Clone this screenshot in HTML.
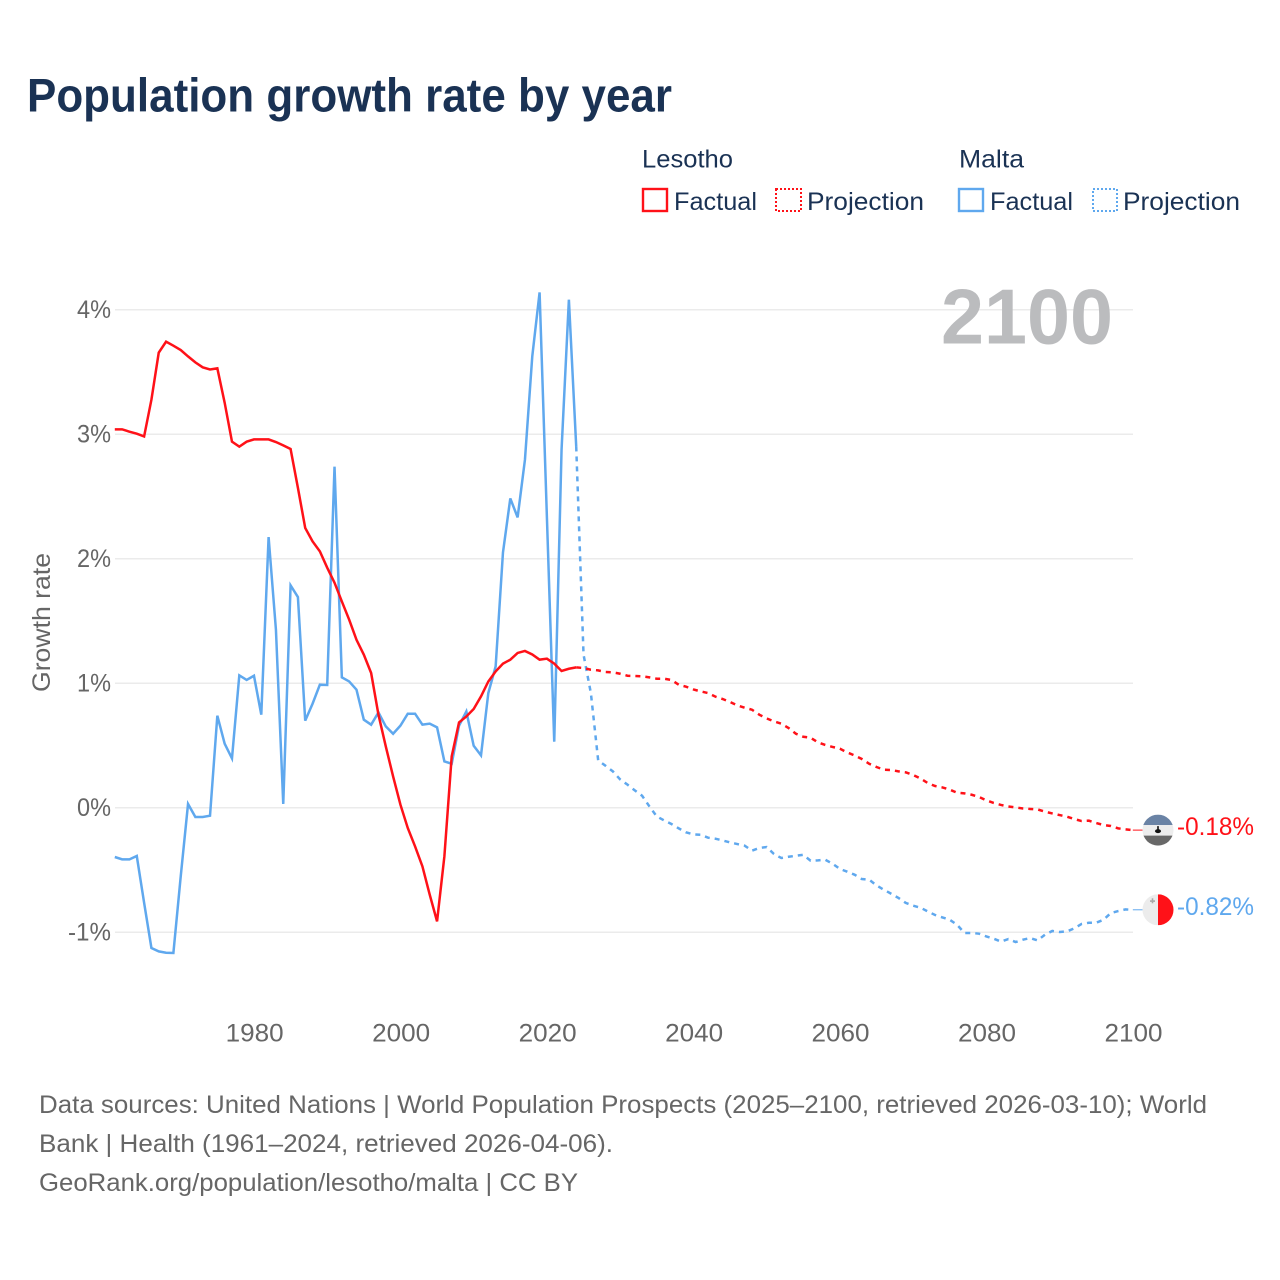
<!DOCTYPE html>
<html lang="en">
<head>
<meta charset="utf-8">
<title>Population growth rate by year</title>
<style>
html,body{margin:0;padding:0;background:#fff;}
svg{display:block;font-family:"Liberation Sans",sans-serif;}
.tick{font-size:25px;fill:#666666;}
.legend{font-size:25px;fill:#1a3254;}
.foot{font-size:25px;fill:#666666;}
</style>
</head>
<body>
<svg id="chart" xmlns="http://www.w3.org/2000/svg" width="1280" height="1280" viewBox="0 0 1280 1280">
  <rect x="0" y="0" width="1280" height="1280" fill="#ffffff"/>
  <text x="27" y="111.5" font-size="47" font-weight="700" fill="#1a3254" textLength="645" lengthAdjust="spacingAndGlyphs">Population growth rate by year</text>

  <g>
    <text class="legend" x="642" y="167.5" textLength="91" lengthAdjust="spacingAndGlyphs">Lesotho</text>
    <text class="legend" x="959" y="167.5" textLength="65" lengthAdjust="spacingAndGlyphs">Malta</text>
    <g>
      <rect x="643" y="189" width="24" height="22" fill="none" stroke="#ff1118" stroke-width="2.4"/>
      <text class="legend" x="674" y="210" textLength="83" lengthAdjust="spacingAndGlyphs">Factual</text>
    </g>
    <g>
      <rect x="776" y="189" width="25" height="22" fill="none" stroke="#ff1118" stroke-width="2" stroke-dasharray="2 2"/>
      <text class="legend" x="807" y="210" textLength="117" lengthAdjust="spacingAndGlyphs">Projection</text>
    </g>
    <g>
      <rect x="959" y="189" width="24" height="22" fill="none" stroke="#5fa8ee" stroke-width="2.4"/>
      <text class="legend" x="990" y="210" textLength="83" lengthAdjust="spacingAndGlyphs">Factual</text>
    </g>
    <g>
      <rect x="1093" y="189" width="24" height="22" fill="none" stroke="#5fa8ee" stroke-width="2" stroke-dasharray="2 2"/>
      <text class="legend" x="1123" y="210" textLength="117" lengthAdjust="spacingAndGlyphs">Projection</text>
    </g>
  </g>

  <g id="grid"></g>
  <g id="yticks"></g>
  <g id="xticks"></g>

  <text x="941" y="343.5" font-size="78" font-weight="700" fill="#bbbcbe" textLength="172" lengthAdjust="spacingAndGlyphs">2100</text>
  <text class="tick" transform="translate(50,692) rotate(-90)" x="0" y="0" textLength="139" lengthAdjust="spacingAndGlyphs">Growth rate</text>

  <g id="series"></g>
  <g id="ends"></g>

  <g>
    <text class="foot" x="39" y="1113" textLength="1168" lengthAdjust="spacingAndGlyphs">Data sources: United Nations | World Population Prospects (2025–2100, retrieved 2026-03-10); World</text>
    <text class="foot" x="39" y="1152" textLength="574" lengthAdjust="spacingAndGlyphs">Bank | Health (1961–2024, retrieved 2026-04-06).</text>
    <text class="foot" x="39" y="1191" textLength="539" lengthAdjust="spacingAndGlyphs">GeoRank.org/population/lesotho/malta | CC BY</text>
  </g>
</svg>
<script>
const xTickYears = [1980, 2000, 2020, 2040, 2060, 2080, 2100];
const yTickValues = [4, 3, 2, 1, 0, -1];
const factualStartYear = 1961;
const projectionStartYear = 2025;
const lesothoFactual = [3.039,3.039,3.020,3.004,2.982,3.277,3.655,3.743,3.711,3.676,
  3.625,3.577,3.537,3.520,3.529,3.253,2.940,2.900,2.940,2.958,
  2.958,2.958,2.937,2.910,2.881,2.570,2.247,2.139,2.059,1.928,
  1.807,1.657,1.510,1.349,1.229,1.082,0.747,0.492,0.251,0.024,
  -0.163,-0.311,-0.471,-0.699,-0.913,-0.391,0.412,0.685,0.733,0.793,
  0.894,1.014,1.095,1.157,1.189,1.243,1.259,1.231,1.189,1.197,
  1.157,1.098,1.116,1.127];
const lesothoProjection = [1.122,1.108,1.103,1.090,1.087,1.076,1.060,1.058,1.055,1.047,
  1.036,1.036,1.026,0.988,0.972,0.950,0.934,0.921,0.892,0.873,
  0.849,0.822,0.803,0.787,0.747,0.717,0.693,0.675,0.640,0.594,
  0.570,0.562,0.525,0.504,0.488,0.474,0.444,0.420,0.391,0.353,
  0.327,0.305,0.303,0.292,0.284,0.263,0.235,0.198,0.174,0.163,
  0.145,0.120,0.115,0.104,0.086,0.059,0.038,0.022,0.010,0.002,
  -0.006,-0.010,-0.014,-0.032,-0.046,-0.059,-0.072,-0.091,-0.107,-0.104,
  -0.123,-0.139,-0.147,-0.166,-0.174,-0.18];
const maltaFactual = [-0.396,-0.415,-0.415,-0.388,-0.763,-1.127,-1.154,-1.165,-1.167,-0.552,
  0.030,-0.075,-0.075,-0.064,0.739,0.514,0.396,1.063,1.026,1.060,
  0.747,2.174,1.430,0.030,1.786,1.692,0.699,0.835,0.988,0.986,
  2.739,1.047,1.014,0.948,0.707,0.667,0.765,0.653,0.594,0.659,
  0.755,0.755,0.667,0.675,0.645,0.372,0.353,0.659,0.773,0.498,
  0.420,0.921,1.135,2.050,2.484,2.332,2.795,3.625,4.139,2.329,
  0.530,2.876,4.080,2.902];
const maltaProjection = [1.229,0.921,0.380,0.337,0.292,0.227,0.185,0.139,0.096,0.010,
  -0.070,-0.102,-0.131,-0.166,-0.198,-0.214,-0.217,-0.241,-0.249,-0.263,
  -0.279,-0.292,-0.305,-0.345,-0.324,-0.316,-0.372,-0.404,-0.394,-0.386,
  -0.378,-0.426,-0.423,-0.418,-0.450,-0.492,-0.514,-0.538,-0.573,-0.578,
  -0.624,-0.659,-0.691,-0.725,-0.765,-0.787,-0.803,-0.833,-0.862,-0.881,
  -0.900,-0.940,-1.006,-1.006,-1.012,-1.034,-1.052,-1.076,-1.055,-1.079,
  -1.060,-1.047,-1.066,-1.020,-0.990,-0.998,-0.994,-0.969,-0.934,-0.924,
  -0.924,-0.900,-0.846,-0.830,-0.817,-0.82];

const RED = '#ff1118';
const BLUE = '#5fa8ee';
const SVG_NS = 'http://www.w3.org/2000/svg';
const xScale = function (year) { return 114.8 + (year - 1961) * 7.324; };
const yScale = function (value) { return 807.7 - value * 124.5; };

function make(tag, parent, attrs, text) {
  const el = document.createElementNS(SVG_NS, tag);
  Object.keys(attrs).forEach(function (k) { el.setAttribute(k, attrs[k]); });
  if (text !== undefined) el.textContent = text;
  parent.appendChild(el);
  return el;
}
function pointsFrom(startYear, values) {
  return values.map(function (v, i) {
    return xScale(startYear + i).toFixed(2) + ',' + yScale(v).toFixed(2);
  }).join(' ');
}

const grid = document.getElementById('grid');
const yticks = document.getElementById('yticks');
yTickValues.forEach(function (v) {
  const line = make('line', grid, {x1: 115, x2: 1133, y1: yScale(v), y2: yScale(v), stroke: '#ebebeb', 'stroke-width': 1.5});
  
  
  const label = make('text', yticks, {x: 111, y: yScale(v) + 8.5, 'text-anchor': 'end', 'class': 'tick', textLength: v < 0 ? 43 : 34, lengthAdjust: 'spacingAndGlyphs'}, v + '%');
  
  
});

const xticks = document.getElementById('xticks');
xTickYears.forEach(function (year) {
  const label = make('text', xticks, {x: xScale(year) + 0.7, y: 1041.5, 'text-anchor': 'middle', 'class': 'tick', textLength: 58, lengthAdjust: 'spacingAndGlyphs'}, String(year));
  
  
});

const seriesGroup = document.getElementById('series');
function drawSeries(factual, projection, color, country) {
  const solid = make('polyline', seriesGroup, {points: pointsFrom(factualStartYear, factual), fill: 'none', stroke: color, 'stroke-width': 2.5, 'stroke-linejoin': 'miter'});
  
  
  const lastFactual = factual[factual.length - 1];
  const joined = [lastFactual].concat(projection);
  const dashed = make('polyline', seriesGroup, {points: pointsFrom(projectionStartYear - 1, joined), fill: 'none', stroke: color, 'stroke-width': 2.5, 'stroke-dasharray': '5 5'});
  
  
}
drawSeries(maltaFactual, maltaProjection, BLUE, 'malta');
drawSeries(lesothoFactual, lesothoProjection, RED, 'lesotho');

const ends = document.getElementById('ends');
const endX = xScale(2100);
const flagX = 1158;
const flagR = 15.5;
const lesothoLast = lesothoProjection[lesothoProjection.length - 1];
const maltaLast = maltaProjection[maltaProjection.length - 1];
const ly = yScale(lesothoLast);
const my = yScale(maltaLast);

const lConnector = make('line', ends, {x1: endX, x2: flagX - flagR, y1: ly, y2: ly, stroke: RED, 'stroke-width': 1});


const mConnector = make('line', ends, {x1: endX, x2: flagX - flagR, y1: my, y2: my, stroke: BLUE, 'stroke-width': 1});



const defs = make('defs', ends, {});
const clipL = make('clipPath', defs, {id: 'clip-lesotho'});
make('circle', clipL, {cx: flagX, cy: ly, r: flagR});
const clipM = make('clipPath', defs, {id: 'clip-malta'});
make('circle', clipM, {cx: flagX, cy: my, r: flagR});

const lFlag = make('g', ends, {'clip-path': 'url(#clip-lesotho)'});


make('rect', lFlag, {x: flagX - flagR, y: ly - flagR, width: flagR * 2, height: 10.5, fill: '#6a83a5'});
make('rect', lFlag, {x: flagX - flagR, y: ly - flagR + 10.5, width: flagR * 2, height: 10.5, fill: '#ededed'});
make('rect', lFlag, {x: flagX - flagR, y: ly - flagR + 21, width: flagR * 2, height: 10, fill: '#686868'});
make('rect', lFlag, {x: flagX - 0.8, y: ly - 4, width: 1.6, height: 4, fill: '#111111'});
make('ellipse', lFlag, {cx: flagX, cy: ly + 1, rx: 3, ry: 2, fill: '#111111'});

const mFlag = make('g', ends, {'clip-path': 'url(#clip-malta)'});


make('rect', mFlag, {x: flagX - flagR, y: my - flagR, width: flagR, height: flagR * 2, fill: '#ececec'});
make('rect', mFlag, {x: flagX, y: my - flagR, width: flagR, height: flagR * 2, fill: '#ff1118'});
make('rect', mFlag, {x: flagX - 8, y: my - 9.5, width: 5, height: 1.6, fill: '#a8a8a8'});
make('rect', mFlag, {x: flagX - 6.3, y: my - 11.5, width: 1.6, height: 5, fill: '#a8a8a8'});

const lValue = make('text', ends, {x: 1177, y: ly + 5, 'font-size': 25, fill: RED, textLength: 77, lengthAdjust: 'spacingAndGlyphs'}, lesothoLast.toFixed(2) + '%');


const mValue = make('text', ends, {x: 1177, y: my + 5, 'font-size': 25, fill: BLUE, textLength: 77, lengthAdjust: 'spacingAndGlyphs'}, maltaLast.toFixed(2) + '%');


</script>
</body>
</html>
